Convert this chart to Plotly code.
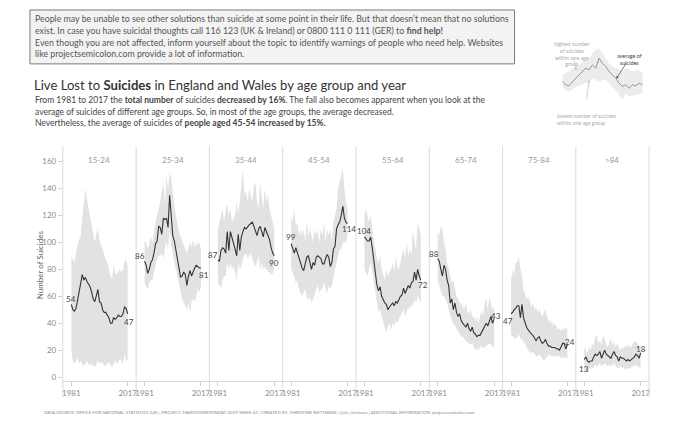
import plotly.graph_objects as go

W, H = 680, 436

# data: yearly suicides per age group (average line + lowest/highest band)
years = list(range(1981, 2018))
age_groups = ['15-24', '25-34', '35-44', '45-54', '55-64', '65-74', '75-84', '>84']

avg_15_24 = [54, 50, 49, 51, 57, 64, 70, 76, 72, 74, 71, 69, 67, 63, 58, 56, 60, 65, 56, 55,
             50, 48, 48, 46, 44, 40, 40, 44, 43, 44, 46, 45, 45, 47, 52, 51, 47]
hi_15_24 = [89, 88, 85, 92, 98, 102, 105, 118, 127, 140, 132, 125, 120, 112, 105, 100, 106, 110, 102, 98,
            95, 90, 87, 85, 80, 75, 73, 83, 78, 76, 78, 80, 78, 80, 86, 87, 82]
lo_15_24 = [20, 12, 10, 12, 14, 10, 12, 10, 8, 10, 12, 9, 10, 8, 10, 7, 10, 12, 10, 11,
            10, 9, 8, 10, 11, 9, 7, 10, 12, 10, 11, 14, 12, 10, 17, 12, 13]

avg_25_34 = [86, 83, 77, 80, 85, 87, 92, 99, 101, 112, 111, 106, 118, 117, 118, 111, 135, 120, 105, 101,
             95, 87, 81, 74, 75, 78, 76, 68, 75, 79, 75, 79, 81, 83, 82, 81, 81]
hi_25_34 = [101, 100, 95, 100, 104, 100, 108, 115, 120, 125, 130, 138, 145, 128, 150, 140, 152, 148, 135, 128,
            120, 113, 108, 104, 100, 98, 95, 92, 96, 100, 97, 102, 96, 100, 98, 100, 95]
lo_25_34 = [70, 68, 65, 70, 72, 72, 78, 82, 88, 90, 90, 92, 88, 96, 100, 95, 110, 98, 90, 85,
            80, 74, 68, 62, 58, 55, 52, 50, 55, 48, 56, 58, 56, 60, 65, 63, 67]

avg_35_44 = [87, 86, 94, 96, 95, 92, 108, 94, 108, 104, 100, 95, 90, 106, 94, 104, 108, 111, 110, 112,
             113, 114, 115, 112, 108, 105, 110, 112, 108, 104, 111, 108, 106, 102, 96, 92, 90]
hi_35_44 = [110, 115, 122, 125, 115, 125, 128, 120, 125, 115, 118, 120, 130, 122, 130, 140, 154, 135, 138, 130,
            140, 135, 130, 142, 145, 130, 125, 145, 135, 125, 140, 130, 135, 125, 120, 115, 110]
lo_35_44 = [70, 68, 66, 72, 75, 75, 85, 80, 85, 80, 82, 78, 72, 85, 80, 82, 88, 90, 92, 88,
            90, 92, 88, 85, 82, 85, 90, 80, 85, 80, 82, 80, 78, 78, 76, 77, 80]

avg_45_54 = [99, 95, 92, 96, 92, 88, 84, 81, 79, 85, 89, 90, 84, 80, 85, 83, 89, 90, 89, 88,
             84, 84, 88, 91, 89, 82, 85, 95, 97, 110, 113, 115, 120, 127, 118, 115, 114]
hi_45_54 = [120, 115, 125, 112, 115, 105, 110, 105, 110, 100, 115, 105, 110, 105, 100, 110, 105, 108, 100, 110,
            105, 115, 100, 110, 105, 110, 100, 115, 120, 125, 140, 145, 150, 155, 140, 130, 125]
lo_45_54 = [80, 78, 75, 70, 72, 65, 62, 60, 63, 65, 60, 57, 60, 55, 58, 62, 65, 68, 62, 65,
            66, 70, 65, 62, 68, 65, 68, 75, 80, 85, 90, 95, 95, 100, 100, 100, 105]

avg_55_64 = [104, 102, 101, 101, 104, 96, 86, 77, 68, 64, 67, 60, 57, 55, 54, 50, 52, 54, 55, 53,
             56, 55, 58, 60, 61, 66, 62, 65, 68, 66, 70, 71, 78, 72, 80, 75, 72]
hi_55_64 = [120, 125, 120, 115, 120, 110, 100, 95, 88, 85, 90, 80, 75, 72, 80, 75, 78, 80, 85, 78,
            90, 82, 80, 85, 90, 95, 88, 100, 90, 95, 90, 110, 100, 95, 115, 110, 105]
lo_55_64 = [80, 78, 75, 80, 85, 78, 70, 60, 55, 48, 50, 45, 40, 37, 33, 38, 40, 35, 40, 38,
            42, 40, 43, 45, 48, 50, 45, 48, 52, 50, 55, 52, 58, 55, 60, 58, 55]

avg_65_74 = [88, 86, 80, 75, 83, 80, 72, 68, 55, 58, 50, 55, 48, 45, 47, 42, 40, 38, 37, 40,
             36, 34, 37, 33, 32, 30, 31, 31, 33, 35, 37, 40, 38, 42, 45, 40, 43]
hi_65_74 = [108, 105, 112, 110, 100, 95, 85, 80, 75, 70, 72, 65, 60, 58, 55, 55, 52, 50, 55, 48,
            48, 50, 45, 45, 42, 45, 40, 45, 50, 45, 55, 58, 50, 60, 55, 50, 52]
lo_65_74 = [72, 68, 65, 60, 60, 58, 55, 50, 45, 42, 40, 38, 36, 35, 32, 30, 30, 28, 27, 26,
            25, 24, 25, 22, 20, 21, 20, 22, 23, 22, 22, 23, 24, 25, 24, 23, 22]

avg_75_84 = [47, 48, 50, 51, 53, 53, 44, 54, 44, 40, 37, 35, 33, 32, 31, 29, 27, 29, 30, 27,
             25, 26, 28, 25, 23, 23, 22, 22, 22, 21, 21, 20, 23, 25, 25, 21, 24]
hi_75_84 = [72, 80, 75, 85, 85, 90, 80, 75, 65, 62, 58, 60, 55, 52, 55, 50, 52, 48, 50, 47,
            45, 48, 50, 45, 42, 40, 42, 38, 40, 37, 35, 36, 34, 36, 35, 37, 35]
lo_75_84 = [32, 30, 30, 28, 30, 32, 28, 28, 26, 25, 22, 20, 18, 18, 19, 17, 16, 15, 17, 15,
            13, 12, 14, 15, 16, 17, 15, 16, 15, 16, 15, 16, 14, 15, 14, 15, 13]

avg_85 = [13, 15, 12, 11, 12, 12, 15, 17, 16, 17, 19, 14, 17, 20, 17, 16, 15, 14, 17, 19,
          16, 15, 12, 15, 14, 14, 13, 12, 13, 12, 13, 14, 15, 17, 16, 14, 18]
hi_85 = [22, 20, 18, 22, 20, 25, 23, 30, 31, 25, 27, 24, 31, 28, 25, 22, 26, 28, 24, 26,
         22, 25, 22, 20, 22, 21, 23, 22, 24, 23, 22, 25, 26, 27, 25, 22, 24]
lo_85 = [6, 5, 4, 6, 7, 6, 7, 9, 8, 9, 10, 8, 9, 10, 9, 8, 9, 8, 9, 10,
         8, 7, 6, 8, 7, 7, 6, 6, 7, 6, 7, 8, 8, 9, 8, 7, 8]

# small explanatory sketch in the top right corner
mini_x = [70, 80, 90, 100, 110, 120, 130, 140, 150, 160, 170, 180, 190, 200, 210, 220, 230, 240, 250, 260,
          270, 280, 290, 300, 310]
mini_avg = [55, 45, 42, 55, 65, 75, 85, 95, 90, 105, 95, 125, 110, 100, 85, 75, 65, 50, 40, 45,
            35, 45, 42, 50, 45]
mini_hi = [75, 80, 85, 95, 100, 105, 115, 120, 125, 140, 150, 155, 140, 125, 110, 100, 95, 90, 85, 95,
           90, 85, 90, 88, 82]
mini_lo = [38, 30, 25, 32, 38, 42, 45, 52, 55, 65, 60, 55, 60, 60, 50, 38, 30, 15, 0, 18,
           10, 12, 15, 18, 20]

groups = [
    (age_groups[0], avg_15_24, lo_15_24, hi_15_24),
    (age_groups[1], avg_25_34, lo_25_34, hi_25_34),
    (age_groups[2], avg_35_44, lo_35_44, hi_35_44),
    (age_groups[3], avg_45_54, lo_45_54, hi_45_54),
    (age_groups[4], avg_55_64, lo_55_64, hi_55_64),
    (age_groups[5], avg_65_74, lo_65_74, hi_65_74),
    (age_groups[6], avg_75_84, lo_75_84, hi_75_84),
    (age_groups[7], avg_85, lo_85, hi_85),
]

# pixel offsets of the first / last value labels
label_shift = [
    ((0, 5), (1, -8)),
    ((-5, 5), (3, -7)),
    ((-5, 5), (0, -7)),
    ((0, 7), (1, -6)),
    ((0, 6), (2, -5)),
    ((-4, 5), (2, 3)),
    ((-3, -7), (3, 3)),
    ((0, -9), (0, 4)),
]

FONT = 'Lato'
BAND = '#e2e2e2'
LINE = '#333333'
GRIDC = '#d9d9d9'
AXTXT = '#8c8c8c'

# the page puts the figure 8px in from the top-left corner
OFF = 8


def fx(p):
    return (p - OFF) / W


def fy(p):
    return 1 - (p - OFF) / H


panel_left, panel_w = 62, 73.5
plot_top, plot_bottom = 147, 382

fig = go.Figure()

for i, (name, avg, lo, hi) in enumerate(groups):
    xa = 'x' if i == 0 else 'x%d' % (i + 1)
    fig.add_trace(go.Scatter(x=years, y=lo, xaxis=xa, yaxis='y', mode='lines',
                             line=dict(width=0, color=BAND), hoverinfo='skip', showlegend=False))
    fig.add_trace(go.Scatter(x=years, y=hi, xaxis=xa, yaxis='y', mode='lines',
                             line=dict(width=0, color=BAND), fill='tonexty', fillcolor=BAND,
                             hoverinfo='skip', showlegend=False))
    fig.add_trace(go.Scatter(x=years, y=avg, xaxis=xa, yaxis='y', mode='lines',
                             line=dict(color=LINE, width=1.1), showlegend=False))

    x0 = fx(panel_left + i * panel_w)
    key = 'xaxis' if i == 0 else 'xaxis%d' % (i + 1)
    fig.layout[key] = dict(
        domain=[x0, x0 + panel_w / W], anchor='y', range=[1975.6, 2022.4],
        tickvals=[years[0], years[-1]], ticks='outside', ticklen=4, tickcolor='#cfcfcf',
        tickfont=dict(size=8, color=AXTXT, family=FONT),
        showgrid=False, zeroline=False, showline=True, linecolor=GRIDC, linewidth=1,
        fixedrange=True,
    )

    # panel header
    fig.add_annotation(x=x0 + panel_w / W / 2, y=fy(153), xref='paper', yref='paper',
                       text=name, showarrow=False, xanchor='center',
                       font=dict(size=8, color='#9a9a9a', family=FONT))

    # first / last value labels
    (sx0, sy0), (sx1, sy1) = label_shift[i]
    fig.add_annotation(x=years[0], y=avg[0], xref=xa, yref='y', text=str(avg[0]), showarrow=False,
                       xshift=sx0, yshift=sy0, font=dict(size=8, color='#444', family=FONT))
    fig.add_annotation(x=years[-1], y=avg[-1], xref=xa, yref='y', text=str(avg[-1]), showarrow=False,
                       xshift=sx1, yshift=sy1, font=dict(size=8, color='#444', family=FONT))

# panel separators
for i in range(9):
    xp = fx(panel_left + i * panel_w)
    fig.add_shape(type='line', xref='paper', yref='paper', x0=xp, x1=xp, y0=fy(398), y1=fy(plot_top),
                  line=dict(color=GRIDC, width=1))

fig.update_layout(
    yaxis=dict(domain=[fy(plot_bottom), fy(plot_top)], anchor='x', range=[-3, 171],
               tickvals=list(range(0, 161, 20)), ticks='outside', ticklen=4, tickcolor='#cfcfcf',
               tickfont=dict(size=8, color=AXTXT, family=FONT), showgrid=False, zeroline=False,
               showline=False, fixedrange=True),
    # inset sketch axes
    xaxis9=dict(domain=[fx(563), fx(645)], anchor='y9', range=[70, 315], visible=False),
    yaxis9=dict(domain=[fy(100), fy(46.7)], anchor='x9', range=[0, 160], visible=False),
)

fig.add_trace(go.Scatter(x=mini_x, y=mini_lo, xaxis='x9', yaxis='y9', mode='lines',
                         line=dict(width=0, color='#ececec'), hoverinfo='skip', showlegend=False))
fig.add_trace(go.Scatter(x=mini_x, y=mini_hi, xaxis='x9', yaxis='y9', mode='lines',
                         line=dict(width=0, color='#ececec'), fill='tonexty', fillcolor='#ececec',
                         hoverinfo='skip', showlegend=False))
fig.add_trace(go.Scatter(x=mini_x, y=mini_avg, xaxis='x9', yaxis='y9', mode='lines',
                         line=dict(color='#8a8a8a', width=0.9), hoverinfo='skip', showlegend=False))

# y axis title
fig.add_annotation(x=fx(40), y=fy(265), xref='paper', yref='paper', text='Number of Suicides',
                   textangle=-90, showarrow=False, xanchor='center', yanchor='middle',
                   font=dict(size=8, color='#666', family=FONT))

# info box
fig.add_shape(type='rect', xref='paper', yref='paper', x0=fx(29), x1=fx(515), y0=fy(64), y1=fy(10),
              line=dict(color='#7a7a7a', width=1), fillcolor='#f3f3f3', layer='below')
box_lines = [
    "People may be unable to see other solutions than suicide at some point in their life. But that doesn\u2019t mean that no solutions",
    "exist. In case you have suicidal thoughts call 116 123 (UK &amp; Ireland) or 0800 111 0 111 (GER) to <b>find help!</b>",
    "Even though you are not affected, inform yourself about the topic to identify warnings of people who need help. Websites",
    "like projectsemicolon.com provide a lot of information.",
]
for txt, yy in zip(box_lines, [19, 30.5, 42.5, 53.5]):
    fig.add_annotation(x=fx(32), y=fy(yy), xref='paper', yref='paper', text=txt, showarrow=False,
                       xanchor='left', yanchor='middle', font=dict(size=8.8, color='#555', family=FONT))

# title and subtitle
fig.add_annotation(x=fx(31), y=fy(85), xref='paper', yref='paper',
                   text='Live Lost to <b>Suicides</b> in England and Wales by age group and year',
                   showarrow=False, xanchor='left', yanchor='middle',
                   font=dict(size=13.1, color='#333', family=FONT))
sub_lines = [
    "From 1981 to 2017 the <b>total number</b> of suicides <b>decreased by 16%</b>. The fall also becomes apparent when you look at the",
    "average of suicides of different age groups. So, in most of the age groups, the average decreased.",
    "Nevertheless, the average of suicides of <b>people aged 45-54 increased by 15%.</b>",
]
for txt, yy in zip(sub_lines, [100, 112, 123.5]):
    fig.add_annotation(x=fx(32), y=fy(yy), xref='paper', yref='paper', text=txt, showarrow=False,
                       xanchor='left', yanchor='middle', font=dict(size=8.5, color='#444', family=FONT))

# footer
fig.add_annotation(x=fx(259), y=fy(418), xref='paper', yref='paper',
                   text='DATA SOURCE: OFFICE FOR NATIONAL STATISTICS (UK) | PROJECT: MAKEOVERMONDAY 2019 WEEK 43 | '
                        'CREATED BY: CHRISTINE RIETMANN | @ch_rietmann | ADDITIONAL INFORMATION: projectsemicolon.com',
                   showarrow=False, xanchor='center',
                   font=dict(size=4.45, color='#8a8a8a', family=FONT))

# sketch annotations
fig.add_annotation(x=fx(573), y=fy(39), xref='paper', yref='paper',
                   text='highest number<br>of suicides<br>within one age<br>group', showarrow=False,
                   xanchor='center', font=dict(size=5.2, color='#ababab', family=FONT))
fig.add_annotation(x=fx(630), y=fy(51.5), xref='paper', yref='paper', text='average of<br>suicides',
                   showarrow=False, xanchor='center', font=dict(size=5.4, color='#444', family=FONT))
fig.add_annotation(x=fx(556), y=fy(111.5), xref='paper', yref='paper',
                   text='lowest number of suicides<br>within one age group', showarrow=False,
                   xanchor='left', align='left', font=dict(size=5.2, color='#ababab', family=FONT))
for hx, hy, tx, ty, col in [(577, 71, 574, 57, '#c4c4c4'), (617, 79, 628, 62, '#555'),
                            (590, 80, 587, 101, '#c4c4c4')]:
    fig.add_annotation(x=fx(hx), y=fy(hy), xref='paper', yref='paper', text='', showarrow=True,
                       ax=tx - hx, ay=ty - hy, arrowhead=2, arrowsize=0.7, arrowwidth=0.8,
                       arrowcolor=col)

fig.update_layout(
    width=W, height=H,
    margin=dict(l=0, r=0, t=0, b=0),
    paper_bgcolor='white', plot_bgcolor='white',
    font=dict(family=FONT),
    showlegend=False,
)

fig.write_html("out.html")
